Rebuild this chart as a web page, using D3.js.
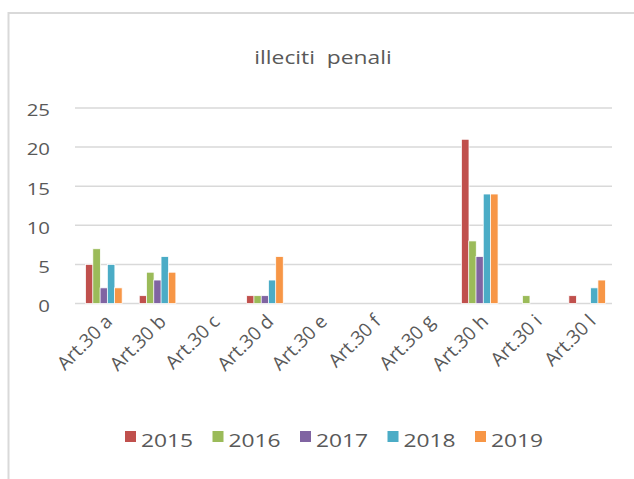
<!DOCTYPE html>
<html><head><meta charset="utf-8">
<script src="https://cdn.jsdelivr.net/npm/d3@7"></script>
<style>
html,body{margin:0;padding:0;background:#fff;}
svg{display:block;}
text{font-family:"Open Sans",sans-serif;fill:#595959;}
</style></head>
<body>
<svg id="c" width="634" height="479"></svg>
<script>
const title = "illeciti  penali";
const categories = ["Art.30 a","Art.30 b","Art.30 c","Art.30 d","Art.30 e","Art.30 f","Art.30 g","Art.30 h","Art.30 i","Art.30 l"];
const seriesNames = ["2015","2016","2017","2018","2019"];
const seriesColors = ["#c0504d","#9bbb59","#8064a2","#4bacc6","#f79646"];
const v2015 = [5,1,0,1,0,0,0,21,0,1];
const v2016 = [7,4,0,1,0,0,0,8,1,0];
const v2017 = [2,3,0,1,0,0,0,6,0,0];
const v2018 = [5,6,0,3,0,0,0,14,0,2];
const v2019 = [2,4,0,6,0,0,0,14,0,3];
const yTicks = [0,5,10,15,20,25];

const series = [v2015,v2016,v2017,v2018,v2019];
const SX = 1.2;
const svg = d3.select("#c");

// outer frame (cropped)
svg.append("rect").attr("x",8.5).attr("y",13).attr("width",640).attr("height",480)
  .attr("fill","none").attr("stroke","#d9d9d9").attr("stroke-width",2);

const plotL = 75, plotR = 612;
const y = d3.scaleLinear().domain([0,25]).range([303.5,108]);
const x0 = d3.scaleBand().domain(categories).range([77,614]).paddingInner(0.31).paddingOuter(0.155);
const x1 = d3.scaleBand().domain(seriesNames).range([0,x0.bandwidth()]).padding(0.1);

// gridlines
svg.append("g").selectAll("line").data(yTicks).join("line")
  .attr("x1",plotL).attr("x2",plotR).attr("y1",d=>y(d)).attr("y2",d=>y(d))
  .attr("stroke","#d9d9d9").attr("stroke-width",1.5);

// y tick labels
svg.append("g").selectAll("text").data(yTicks).join("text")
  .attr("transform",d=>`translate(50,${y(d)+8.3}) scale(${SX},1)`)
  .attr("text-anchor","end").attr("font-size",17).text(d=>d);

// bars
const g = svg.append("g");
categories.forEach((c,ci)=>{
  series.forEach((s,si)=>{
    const val = s[ci];
    if(!val) return;
    g.append("rect")
      .attr("x",x0(c)+x1(seriesNames[si])-0.5)
      .attr("y",y(val))
      .attr("width",x1.bandwidth()+1)
      .attr("height",y(0)-y(val))
      .attr("fill",seriesColors[si])
      .attr("stroke","#fff").attr("stroke-width",0.75);
  });
});

// x labels
svg.append("g").selectAll("text").data(categories).join("text")
  .attr("transform",d=>`translate(${x0(d)+x0.bandwidth()/2+5},318) rotate(-45)`)
  .attr("text-anchor","end").attr("dy","0.35em").attr("font-size",19).text(d=>d);

// title
svg.append("text").attr("transform",`translate(323,64) scale(${SX},1)`)
  .attr("text-anchor","middle").attr("font-size",19).style("white-space","pre").text(title);

// legend
const lg = svg.append("g").selectAll("g").data(seriesNames).join("g")
  .attr("transform",(d,i)=>`translate(${124+i*87.5},0)`);
lg.append("rect").attr("x",1).attr("y",431).attr("width",11).attr("height",11)
  .attr("fill",(d,i)=>seriesColors[i]);
lg.append("text").attr("transform",`translate(17,447) scale(${SX},1)`)
  .attr("font-size",19).text(d=>d);
</script>
</body></html>
